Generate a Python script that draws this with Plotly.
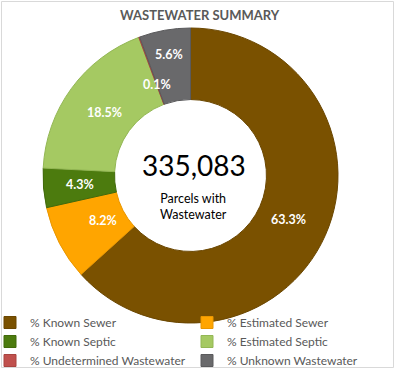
import math
import plotly.graph_objects as go

# ---- data ----
categories = ["% Known Sewer", "% Estimated Sewer", "% Known Septic",
              "% Estimated Septic", "% Undetermined Wastewater", "% Unknown Wastewater"]
values = [63.3, 8.2, 4.3, 18.5, 0.1, 5.6]
total_parcels = 335083
center_caption = "Parcels with<br>Wastewater"
chart_title = "WASTEWATER SUMMARY"

# ---- style ----
colors = ["#7A5100", "#FFA500", "#4C7B0E", "#A5C962", "#C0504D", "#69696B"]
edge_colors = ["#6A4600", "#E99600", "#416A0A", "#93B754", "#A94440", "#5A5A5C"]
label_r_frac = [0.73, 0.665, 0.75, 0.72, 0.66, 0.83]

W, H = 400, 369
cx, cy, R = 190.5, 175.5, 147.5
hole = 0.515

fig = go.Figure(go.Pie(
    labels=categories, values=values, sort=False, direction="clockwise", rotation=0,
    hole=hole, textinfo="none", hoverinfo="label+percent",
    marker=dict(colors=colors, line=dict(color=edge_colors, width=1)),
    domain=dict(x=[(cx - R) / W, (cx + R) / W], y=[1 - (cy + R) / H, 1 - (cy - R) / H]),
))

annotations = []
total = sum(values)
cum = 0.0
for v, rf in zip(values, label_r_frac):
    mid = (cum + v / 2) / total * 2 * math.pi
    cum += v
    r = R * rf
    px = cx + r * math.sin(mid)
    py = cy - r * math.cos(mid)
    annotations.append(dict(x=px / W, y=1 - py / H, xref="paper", yref="paper",
                            xanchor="center", yanchor="middle",
                            text=f"<b>{v:.1f}%</b>", showarrow=False,
                            font=dict(family="Lato", size=12.5, color="white")))

annotations.append(dict(x=194 / W, y=1 - 165 / H, xref="paper", yref="paper",
                        xanchor="center", yanchor="middle",
                        text=f"{total_parcels:,}", showarrow=False,
                        font=dict(family="Lato", size=28, color="black")))
annotations.append(dict(x=193 / W, y=1 - 206 / H, xref="paper", yref="paper",
                        xanchor="center", yanchor="middle",
                        text=center_caption, showarrow=False,
                        font=dict(family="Lato", size=12.5, color="black")))
annotations.append(dict(x=200 / W, y=1 - 15 / H, xref="paper", yref="paper",
                        xanchor="center", yanchor="middle",
                        text=f"<b>{chart_title}</b>", showarrow=False,
                        font=dict(family="Lato", size=13, color="#595959")))

fig.update_layout(
    width=W, height=H, margin=dict(l=0, r=0, t=0, b=0, autoexpand=False),
    paper_bgcolor="white", plot_bgcolor="white",
    annotations=annotations,
    showlegend=True,
    legend=dict(orientation="h", x=0, xanchor="left", y=1 - 308 / H, yanchor="top",
                entrywidth=162, entrywidthmode="pixels", traceorder="normal",
                indentation=-10,
                font=dict(family="Lato", size=12, color="#595959"),
                itemclick=False, itemdoubleclick=False, bgcolor="rgba(0,0,0,0)"),
    shapes=[dict(type="rect", xref="paper", yref="paper",
                 x0=1.5 / W, x1=393.5 / W, y0=1 - 367.5 / H, y1=1 - 1.5 / H,
                 line=dict(color="#D9D9D9", width=1), fillcolor="rgba(0,0,0,0)")],
)

fig.write_html("out.html", config={"displayModeBar": False},
               post_script="document.body.style.margin='0px';")
